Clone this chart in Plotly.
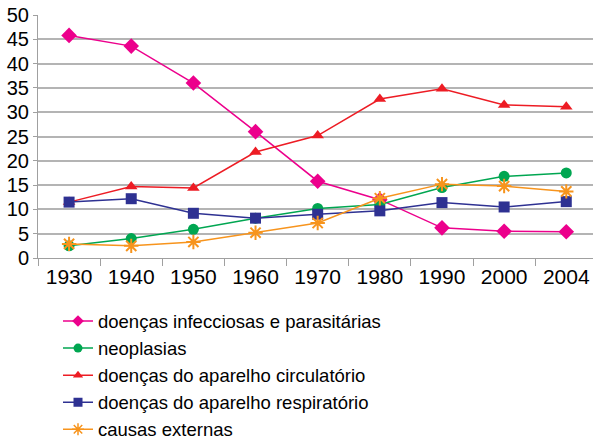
import plotly.graph_objects as go

years = ["1930", "1940", "1950", "1960", "1970", "1980", "1990", "2000", "2004"]
infecciosas = [45.8, 43.6, 36.0, 26.0, 15.8, 12.0, 6.2, 5.5, 5.4]
neoplasias = [2.5, 4.0, 5.9, 8.2, 10.2, 11.0, 14.5, 16.8, 17.5]
circulatorio = [11.5, 14.7, 14.4, 21.8, 25.2, 32.7, 34.8, 31.5, 31.1]
respiratorio = [11.5, 12.2, 9.2, 8.2, 9.0, 9.7, 11.4, 10.5, 11.6]
externas = [2.9, 2.5, 3.3, 5.2, 7.2, 12.3, 15.2, 14.8, 13.7]

names = ["doenças infecciosas e parasitárias", "neoplasias",
         "doenças do aparelho circulatório", "doenças do aparelho respiratório",
         "causas externas"]
series = [infecciosas, neoplasias, circulatorio, respiratorio, externas]
colors = ["#EC008C", "#00A651", "#ED1C24", "#2E3192", "#F7941D"]
symbols = ["diamond", "circle", "triangle-up", "square", "asterisk-open"]
sizes = [12, 11, 11, 11, 12]
legend_sizes = [9, 9, 9, 9, 10]

fig = go.Figure()
for i, (n, s) in enumerate(zip(names, series)):
    fig.add_trace(go.Scatter(
        x=years, y=s, name=n, mode="lines+markers",
        legendgroup=f"g{i}", showlegend=False,
        line=dict(color=colors[i], width=1.5),
        marker=dict(symbol=symbols[i], size=sizes[i], color=colors[i],
                    line=dict(color=colors[i], width=2 if i == 4 else 0)),
    ))
    # legend entry with smaller marker, as in the reference
    fig.add_trace(go.Scatter(
        x=[None], y=[None], name=n, mode="lines+markers",
        legendgroup=f"g{i}", showlegend=True,
        line=dict(color=colors[i], width=1.5),
        marker=dict(symbol=symbols[i], size=legend_sizes[i], color=colors[i],
                    line=dict(color=colors[i], width=1.5 if i == 4 else 0)),
    ))

H = 441
top, bottom_px = 15, 258
plot_h = H - top  # margin bottom = 0, y-axis occupies upper part of paper
fig.update_layout(
    width=593, height=H,
    margin=dict(l=38, r=0, t=top, b=0, autoexpand=False),
    paper_bgcolor="white", plot_bgcolor="white",
    font=dict(family="Liberation Sans, Arial, sans-serif", color="black"),
    showlegend=True,
    legend=dict(x=(58 - 38) / 555, xanchor="left",
                y=(H - 302.5) / plot_h, yanchor="top",
                font=dict(size=18.5, color="black"), tracegroupgap=0,
                itemwidth=30, bgcolor="rgba(0,0,0,0)"),
    xaxis=dict(type="category", tickson="boundaries", ticks="outside",
               ticklen=7, tickcolor="#a0a0a0", showline=True,
               linecolor="#a0a0a0", linewidth=1, showgrid=False,
               tickfont=dict(size=21), range=[-0.5, 8.43], automargin=False),
    yaxis=dict(range=[0, 50], dtick=5, showgrid=True, gridcolor="#b4b4b4",
               gridwidth=1.5, showline=True, linecolor="#a0a0a0",
               ticks="outside", ticklen=4, tickcolor="#a0a0a0",
               tickfont=dict(size=20), zeroline=False, automargin=False,
               domain=[(H - bottom_px) / plot_h, 1]),
)

fig.write_html("out.html", config={"displayModeBar": False},
               post_script="document.body.style.margin='0px';")
